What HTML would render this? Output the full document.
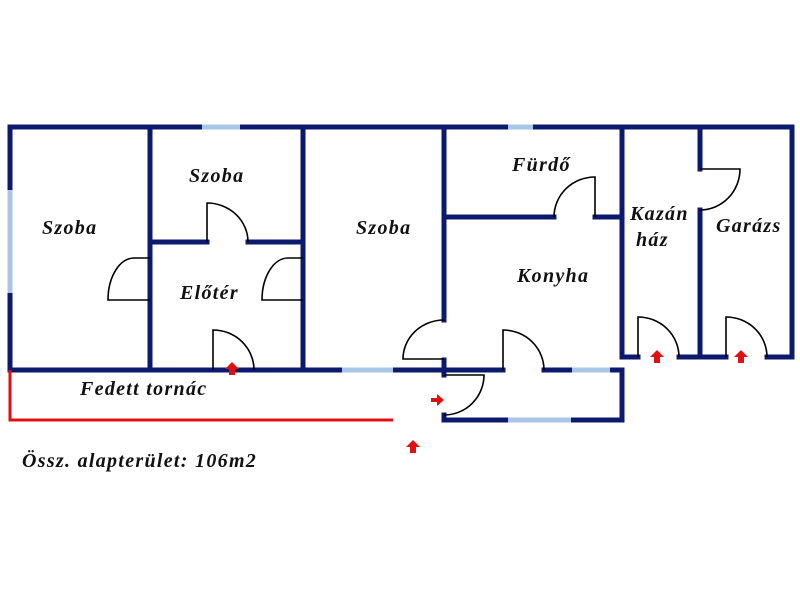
<!DOCTYPE html>
<html><head><style>body{margin:0;background:#fff}</style></head><body>
<svg width="800" height="600" viewBox="0 0 800 600" xmlns="http://www.w3.org/2000/svg">
<rect width="800" height="600" fill="#fff"/>
<g stroke="#0c1a6e" stroke-width="5" fill="none" stroke-linecap="square">
<path d="M10 127H792V357M10 127V370H445M150 127V370M303 127V370M150 242H207M248 242H303"/>
<path d="M444 127V320M444 360V375M444 415V420H622V370M445 370H503M544 370H622M444 217H554M595 217H622M622 127V357H638M679 357H726M767 357H792M700 127V169M700 210V357"/>
</g>
<g stroke="#a9c6e6" stroke-width="5" fill="none">
<path d="M10 190V293M202 127H240M508 127H533M342 370H393M572 370H610M508 420H571"/>
</g>
<g stroke="#000" stroke-width="1.6" fill="none">
<path d="M150 258H134A26 42 0 0 0 108 300H150"/>
<path d="M303 258H288A26 42 0 0 0 262 300H303"/>
<path d="M207 242V203A41 39 0 0 1 248 242"/>
<path d="M213 370V330A41 40 0 0 1 254 370"/>
<path d="M444 320A41 39 0 0 0 403 359H444"/>
<path d="M595 217V177A41 40 0 0 0 554 217"/>
<path d="M503 370V330A41 40 0 0 1 544 370"/>
<path d="M444 375H484A40 40 0 0 1 444 415"/>
<path d="M638 357V317A41 40 0 0 1 679 357"/>
<path d="M726 357V317A41 40 0 0 1 767 357"/>
<path d="M700 169H740A40 41 0 0 1 700 210"/>
</g>
<path d="M10 370V420H393" stroke="#e01010" stroke-width="3" fill="none"/>
<g fill="#e01010">
<path d="M232 362l-7 7h4v6h6v-6h4z"/>
<path d="M413 440l-7 7h4v6h6v-6h4z"/>
<path d="M657 350l-7 7h4v6h6v-6h4z"/>
<path d="M741 350l-7 7h4v6h6v-6h4z"/>
<path d="M444 400l-7-6v4h-6v4h6v4z"/>
</g>
<g font-family="Liberation Serif, serif" font-style="italic" font-weight="bold" font-size="20" letter-spacing="1.3" fill="#111">
<text x="42" y="234">Szoba</text>
<text x="189" y="182">Szoba</text>
<text x="356" y="234">Szoba</text>
<text x="180" y="299">Előtér</text>
<text x="512" y="171">Fürdő</text>
<text x="517" y="282">Konyha</text>
<text x="630" y="220">Kazán</text>
<text x="636" y="246">ház</text>
<text x="716" y="232">Garázs</text>
<text x="80" y="395">Fedett tornác</text>
<text x="22" y="467">Össz. alapterület: 106m2</text>
</g>
</svg>
</body></html>
